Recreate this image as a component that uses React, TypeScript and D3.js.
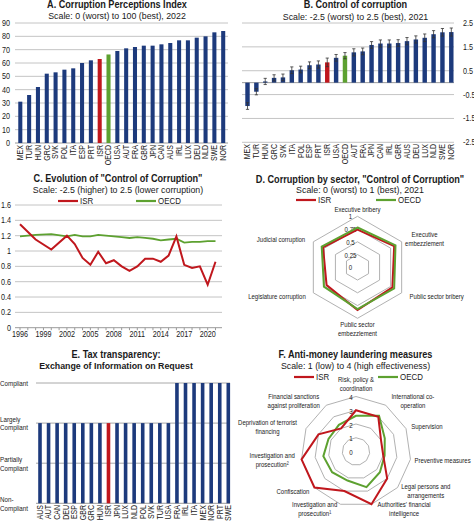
import React from 'react';
import * as d3 from 'd3';

// ---------- DATA ----------
const cpiCountries = ['MEX','TUR','HUN','GRC','SVK','POL','ITA','ESP','PRT','ISR','OECD','USA','AUT','FRA','GBR','JPN','CAN','AUS','IRL','LUX','DEU','NLD','SWE','NOR'];
const cpiValues = [31,36,42,52,53,55,56,60,62,63,66.4,69,71,72,73,73,74,75,77,77,79,80,83,84];
const cpiTicks = [0,10,20,30,40,50,60,70,80,90];

const cocCountries = ['MEX','TUR','HUN','GRC','SVK','ITA','POL','ESP','PRT','ISR','USA','OECD','AUT','FRA','JPN','CAN','IRL','GBR','AUS','DEU','LUX','NLD','SWE','NOR'];
const cocValues = [-0.98,-0.38,0.05,0.2,0.22,0.52,0.55,0.73,0.76,0.85,1.04,1.13,1.27,1.31,1.58,1.64,1.64,1.66,1.74,1.81,1.88,2.03,2.11,2.12];
const cocErrors = [0.14,0.13,0.13,0.13,0.14,0.14,0.14,0.14,0.15,0.18,0.14,0.13,0.15,0.14,0.14,0.15,0.15,0.14,0.15,0.15,0.16,0.15,0.16,0.17];
const cocTicks = [2.5,1.5,0.5,-0.5,-1.5,-2.5];

const ccYears = [1996,1998,2000,2002,2003,2004,2005,2006,2007,2008,2009,2010,2011,2012,2013,2014,2015,2016,2017,2018,2019,2020,2021];
const ccIsr = [1.35,1.15,1.02,1.2,1.09,0.91,0.82,0.99,0.84,0.88,0.8,0.74,0.8,0.9,0.9,0.86,0.94,1.19,0.82,0.78,0.8,0.56,0.86];
const ccOecd = [1.19,1.21,1.22,1.19,1.21,1.19,1.19,1.21,1.2,1.19,1.18,1.17,1.18,1.17,1.16,1.14,1.15,1.16,1.11,1.12,1.12,1.13,1.13];
const ccYTicks = [0,0.2,0.4,0.6,0.8,1,1.2,1.4,1.6];
const ccXLabels = [1996,1999,2002,2005,2008,2011,2014,2017,2020];

const sectorLabels = [['Executive bribery'],['Executive','embezzlement'],['Public sector bribery'],['Public sector','embezzlement'],['Legislature corruption'],['Judicial corruption']];
const sectorIsr = [0.74,0.83,0.79,0.84,0.7,0.78];
const sectorOecd = [0.78,0.86,0.83,0.82,0.76,0.81];
const sectorTicks = [0,0.25,0.5,0.75,1];

const taxCountries = ['AUS','AUT','CAN','DEU','ESP','GBR','GRC','HUN','ISR','JPN','LUX','NLD','POL','SVK','TUR','USA','FRA','IRL','ITA','MEX','NOR','PRT','SWE'];
const taxValues = [2,2,2,2,2,2,2,2,2,2,2,2,2,2,2,2,3,3,3,3,3,3,3];
const taxLevels = [['Non-','Compliant'],['Partially','Compliant'],['Largely','Compliant'],['Compliant']];

const amlLabels = [['Risk, policy &','coordination'],['International co-','operation'],['Supervision'],['Preventive measures'],['Legal persons and','arrangements'],["Authorities' financial",'intelligence'],['Investigation and','prosecution¹'],['Confiscation'],['Investigation and','prosecution²'],['Deprivation of terrorist','financing'],['Financial sanctions','against proliferation']];
const amlIsr = [3,3,2,2,3,4,3,4,4,3,2];
const amlOecd = [2.6,3.1,2.3,2.1,2.3,2.7,2.2,2.3,2.4,2.2,2.3];
const amlTicks = [0,1,2,3,4];

// ---------- STYLE ----------
const FONT = "'Liberation Sans',Arial,sans-serif";
const NAVY = '#1d3a7c';
const RED = '#c0171d';
const GREEN = '#5da130';
const GRID = '#c4c4c4';
const AXIS = '#9a9a9a';
const RING = '#a8a8a8';

function barColor(name: string) {
  if (name === 'ISR') return RED;
  if (name === 'OECD') return GREEN;
  return NAVY;
}

// condensed text helper (narrow face emulation)
function T({ x, y, sx = 0.85, size = 8, anchor = 'start', weight = 'normal', children }: any) {
  return (
    <g transform={`translate(${x},${y}) scale(${sx},1)`}>
      <text x={0} y={0} dy="0.35em" fontSize={size} textAnchor={anchor} fontWeight={weight} fill="#1a1a1a">{children}</text>
    </g>
  );
}

function RotLabels({ names, x, top, size = 8.2, sx = 0.86 }: { names: string[]; x: (n: string) => number; top: number; size?: number; sx?: number }) {
  return (
    <g>
      {names.map((n) => (
        <g key={n} transform={`translate(${x(n)},${top}) rotate(-90) scale(${sx},1)`}>
          <text textAnchor="end" dy="0.35em" fontSize={size} fill="#1a1a1a">{n}</text>
        </g>
      ))}
    </g>
  );
}

function Legend({ y, x1, x2 }: { y: number; x1: number; x2: number }) {
  return (
    <g>
      <line x1={x1} x2={x1 + 20} y1={y} y2={y} stroke={RED} strokeWidth={2.2} />
      <T x={x1 + 22} y={y} size={9} sx={0.88}>ISR</T>
      <line x1={x2} x2={x2 + 20} y1={y} y2={y} stroke={GREEN} strokeWidth={2.2} />
      <T x={x2 + 22} y={y} size={9} sx={0.88}>OECD</T>
    </g>
  );
}

function Titles({ x, y1, y2, t1, t2, bold2 = false }: any) {
  return (
    <g>
      <T x={x} y={y1} size={10.5} sx={0.87} anchor="middle" weight="bold">{t1}</T>
      <T x={x} y={y2} size={9.8} sx={0.9} anchor="middle" weight={bold2 ? 'bold' : 'normal'}>{t2}</T>
    </g>
  );
}

// ---------- PANELS ----------
function PanelA() {
  const x = d3.scalePoint<string>().domain(cpiCountries).range([20.3, 223.2]);
  const y = d3.scaleLinear().domain([0, 90]).range([143, 23]);
  const bw = x.step() * 0.46;
  return (
    <g>
      <Titles x={117} y1={4.8} y2={16} t1="A. Corruption Perceptions Index" t2="Scale: 0 (worst) to 100 (best), 2022" />
      {cpiTicks.map((t) => (
        <g key={t}>
          <line x1={15} x2={228} y1={y(t)} y2={y(t)} stroke={t === 0 ? AXIS : GRID} strokeWidth={1} />
          <T x={10} y={y(t)} anchor="end" size={8.5} sx={0.85}>{t}</T>
        </g>
      ))}
      {cpiCountries.map((c, i) => (
        <rect key={c} x={x(c)! - bw / 2} width={bw} y={y(cpiValues[i])} height={y(0) - y(cpiValues[i])} fill={barColor(c)} />
      ))}
      <RotLabels names={cpiCountries} x={(n) => x(n)!} top={145} />
    </g>
  );
}

function PanelB() {
  const x = d3.scalePoint<string>().domain(cocCountries).range([247.5, 451.3]);
  const y = d3.scaleLinear().domain([-2.5, 2.5]).range([142.3, 23]);
  const bw = x.step() * 0.5;
  return (
    <g>
      <Titles x={355.5} y1={4.8} y2={16.2} t1="B. Control of corruption" t2="Scale: -2.5 (worst) to 2.5 (best), 2021" />
      {cocTicks.map((t) => (
        <g key={t}>
          <line x1={242} x2={454} y1={y(t)} y2={y(t)} stroke={GRID} />
          <T x={463} y={y(t)} size={8.5} sx={0.85}>{t}</T>
        </g>
      ))}
      <line x1={242} x2={454} y1={y(0)} y2={y(0)} stroke={AXIS} />
      {cocCountries.map((c, i) => {
        const v = cocValues[i];
        const e = cocErrors[i];
        const cx = x(c)!;
        return (
          <g key={c}>
            <rect x={cx - bw / 2} width={bw} y={Math.min(y(v), y(0))} height={Math.abs(y(0) - y(v))} fill={barColor(c)} />
            <line x1={cx} x2={cx} y1={y(v + e)} y2={y(v - e)} stroke="#333" strokeWidth={0.8} />
            <line x1={cx - 1.6} x2={cx + 1.6} y1={y(v + e)} y2={y(v + e)} stroke="#333" strokeWidth={0.8} />
            <line x1={cx - 1.6} x2={cx + 1.6} y1={y(v - e)} y2={y(v - e)} stroke="#333" strokeWidth={0.8} />
          </g>
        );
      })}
      <RotLabels names={cocCountries} x={(n) => x(n)!} top={144} />
    </g>
  );
}

function PanelC() {
  const x = d3.scaleLinear().domain([1996, 2021]).range([20, 215.5]);
  const y = d3.scaleLinear().domain([0, 1.6]).range([327.7, 205]);
  const line = d3.line<number>().x((_, i) => x(ccYears[i])).y((d) => y(d));
  const allYears = d3.range(1996, 2022);
  return (
    <g>
      <Titles x={118} y1={178.3} y2={190} t1={'C. Evolution of "Control of Corruption"'} t2="Scale: -2.5 (higher) to 2.5 (lower corruption)" />
      <Legend y={201} x1={58} x2={136} />
      {ccYTicks.map((t) => (
        <g key={t}>
          <line x1={15} x2={222} y1={y(t)} y2={y(t)} stroke={t === 0 ? AXIS : GRID} />
          <T x={11} y={y(t)} anchor="end" size={8.5} sx={0.85}>{t}</T>
        </g>
      ))}
      {allYears.map((yr) => (
        <line key={yr} x1={x(yr)} x2={x(yr)} y1={y(0)} y2={y(0) + 2.5} stroke={AXIS} />
      ))}
      {ccXLabels.map((yr) => (
        <T key={yr} x={x(yr)} y={334.3} anchor="middle" size={8.5} sx={0.85}>{yr}</T>
      ))}
      <path d={line(ccOecd)!} fill="none" stroke={GREEN} strokeWidth={1.8} />
      <path d={line(ccIsr)!} fill="none" stroke={RED} strokeWidth={2} />
    </g>
  );
}

function polarPoint(cx: number, cy: number, r: number, i: number, n: number): [number, number] {
  const a = (i * 2 * Math.PI) / n;
  return [cx + r * Math.sin(a), cy - r * Math.cos(a)];
}

function RadarLabels({ labels, cx, cy, r, size, cw, sx, topLift }: { labels: string[][]; cx: number; cy: number; r: number; size: number; cw: number; sx: number; topLift: number }) {
  const n = labels.length;
  return (
    <g>
      {labels.map((lines, i) => {
        const a = (i * 2 * Math.PI) / n;
        const s = Math.sin(a);
        const c = Math.cos(a);
        const [px, py] = polarPoint(cx, cy, r, i, n);
        const w = d3.max(lines, (l) => l.length)! * cw;
        let tx = px;
        if (s > 0.2) tx = px + 1.5 + w / 2;
        else if (s < -0.2) tx = px - 1.5 - w / 2;
        const lh = 8.9;
        const blockH = (lines.length - 1) * lh;
        let ty = py - blockH / 2;
        if (c > 0.99) ty = py - blockH - topLift;
        else if (c < -0.99) ty = py;
        return (
          <g key={i} transform={`translate(${tx},${ty}) scale(${sx},1)`}>
            <text textAnchor="middle" fontSize={size} fill="#1a1a1a">
              {lines.map((l, j) => (
                <tspan key={j} x={0} y={j * lh} dy="0.35em">{l}</tspan>
              ))}
            </text>
          </g>
        );
      })}
    </g>
  );
}

function PanelD() {
  const cx = 357.5, cy = 267.3;
  const r = d3.scaleLinear().domain([0, 1]).range([0, 51]);
  const n = sectorLabels.length;
  const poly = (vals: number[]) => vals.map((v, i) => polarPoint(cx, cy, r(v), i, n).join(',')).join(' ');
  return (
    <g>
      <Titles x={360} y1={179} y2={190} t1={'D. Corruption by sector, "Control of Corruption"'} t2="Scale: 0 (worst) to 1 (best), 2021" />
      <Legend y={200} x1={296} x2={376} />
      {sectorTicks.filter((t) => t > 0).map((t) => (
        <polygon key={t} points={poly(sectorLabels.map(() => t))} fill="none" stroke={RING} strokeWidth={0.9} />
      ))}
      {sectorTicks.map((t) => (
        <T key={t} x={cx - 7} y={cy - r(t) + 0.5} anchor="middle" size={7.6} sx={0.8}>{t}</T>
      ))}
      <polygon points={poly(sectorIsr)} fill="none" stroke={RED} strokeWidth={2} />
      <polygon points={poly(sectorOecd)} fill="none" stroke={GREEN} strokeWidth={2} />
      <RadarLabels labels={sectorLabels} cx={cx} cy={cy} r={r(1) + 6} size={7.9} cw={2.7} sx={0.76} topLift={1.5} />
    </g>
  );
}

function PanelE() {
  const x = d3.scalePoint<string>().domain(taxCountries).range([40, 228.3]);
  const y = d3.scaleLinear().domain([0, 3]).range([503.3, 383]);
  const bw = x.step() * 0.42;
  return (
    <g>
      <Titles x={116} y1={354} y2={365.3} t1="E. Tax transparency:" t2="Exchange of Information on Request" bold2={true} />
      {taxLevels.map((lines, i) => (
        <g key={i}>
          <line x1={36} x2={230} y1={y(i)} y2={y(i)} stroke={i === 0 ? AXIS : '#a8a8a8'} />
          <g transform={`translate(0,${lines.length === 1 ? y(i) : y(i) - 4.2}) scale(0.8,1)`}>
            <text fontSize={7.8} fill="#1a1a1a">
              {lines.map((l, j) => (
                <tspan key={j} x={0} y={j * 8.8} dy="0.35em">{l}</tspan>
              ))}
            </text>
          </g>
        </g>
      ))}
      {taxCountries.map((c, i) => (
        <rect key={c} x={x(c)! - bw / 2} width={bw} y={y(taxValues[i])} height={y(0) - y(taxValues[i])} fill={barColor(c)} />
      ))}
      <RotLabels names={taxCountries} x={(n) => x(n)!} top={505} />
    </g>
  );
}

function PanelF() {
  const cx = 356, cy = 451.5;
  const r = d3.scaleLinear().domain([0, 4]).range([0, 55]);
  const n = amlLabels.length;
  const poly = (vals: number[]) => vals.map((v, i) => polarPoint(cx, cy, r(v), i, n).join(',')).join(' ');
  return (
    <g>
      <Titles x={355.5} y1={354} y2={365.7} t1="F. Anti-money laundering measures" t2="Scale: 1 (low) to 4 (high effectiveness)" />
      <Legend y={377} x1={294} x2={378} />
      {amlTicks.filter((t) => t > 0).map((t) => (
        <polygon key={t} points={poly(amlLabels.map(() => t))} fill="none" stroke={RING} strokeWidth={0.9} />
      ))}
      {amlTicks.map((t) => (
        <T key={t} x={cx - 5} y={cy - r(t) + 1} anchor="middle" size={7.6} sx={0.82}>{t}</T>
      ))}
      <polygon points={poly(amlOecd)} fill="none" stroke={GREEN} strokeWidth={2} />
      <polygon points={poly(amlIsr)} fill="none" stroke={RED} strokeWidth={2} />
      <RadarLabels labels={amlLabels} cx={cx} cy={cy} r={r(4) + 5} size={7.9} cw={2.7} sx={0.76} topLift={3.5} />
    </g>
  );
}

export default function App() {
  return (
    <svg width={474} height={521} viewBox="0 0 474 521" fontFamily={FONT} style={{ position: 'absolute', left: 0, top: 0, background: '#fff' }}>
      <rect width={474} height={521} fill="#fff" />
      <PanelA />
      <PanelB />
      <PanelC />
      <PanelD />
      <PanelE />
      <PanelF />
    </svg>
  );
}
